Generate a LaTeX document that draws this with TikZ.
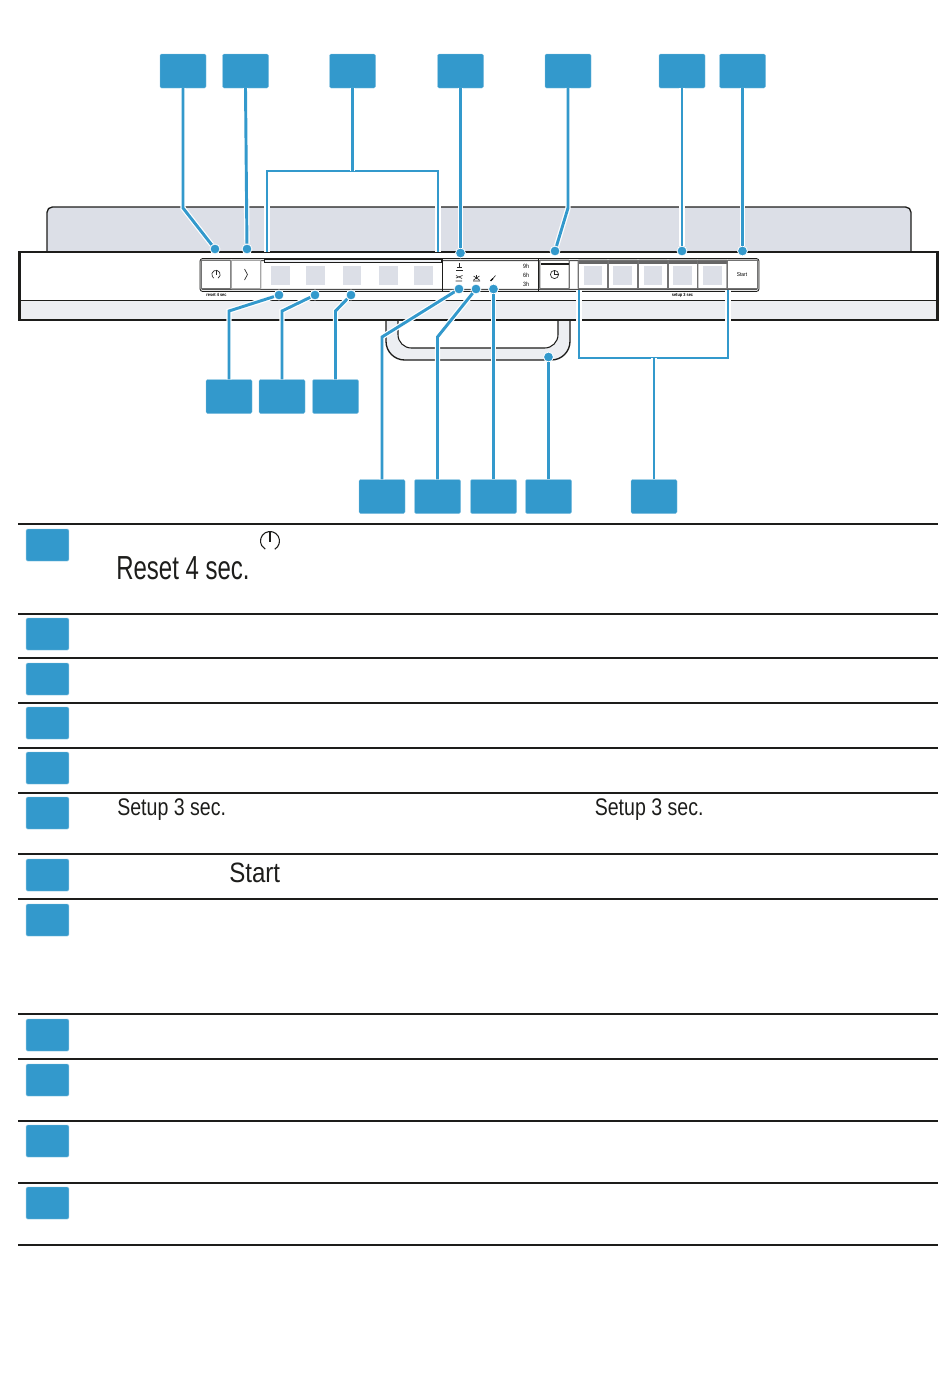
\documentclass[tikz,border=0pt]{standalone}
\usepackage{fontspec}
\setmainfont[FakeStretch=0.86]{Liberation Sans}
\newfontfamily\narrowfont[FakeStretch=0.815]{Liberation Sans}
\newfontfamily\narrowerfont[FakeStretch=0.72]{Liberation Sans}
\usepackage{xcolor}
\usetikzlibrary{
    calc,
    positioning
}
\definecolor{tagblue}{HTML}{3399CC}
\definecolor{coverfill}{HTML}{DCDFE7}
\definecolor{stripfill}{HTML}{ECEEF2}
\definecolor{inkdark}{HTML}{1D1D1B}
\tikzset{
    tag/.style={fill=tagblue, draw=tagblue!60!white, line width=0.3pt, rounded corners=1pt, minimum width=34.5pt, minimum height=25.5pt, inner sep=0pt},
    keytag/.style={tag, minimum width=32pt, minimum height=24pt},
    leader/.style={draw=tagblue, line width=2.2pt, line join=miter, preaction={draw=white, line width=4pt}},
    dot/.style={circle, fill=tagblue, draw=white, line width=0.6pt, minimum size=7.4pt, inner sep=0pt},
    keycap/.style={draw=black!55, fill=white, line width=0.9pt, rounded corners=0.6pt, minimum width=22pt, minimum height=21.5pt, inner sep=0pt},
    pad/.style={fill=coverfill, minimum width=14pt, minimum height=14pt, inner sep=0pt},
    tiny/.style={inner sep=0pt, font=\fontsize{3.8}{4}\selectfont},
    body/.style={inner sep=0pt, anchor=west, text=inkdark, font=\narrowfont\fontsize{18}{20}\selectfont},
    icon/.style={draw=black!85, line width=0.45pt}
}
\begin{document}
\begin{tikzpicture}[x=0.75pt, y=-0.75pt]
    \useasboundingbox (0,0) rectangle (950,1392);

    % appliance
    \draw[fill=coverfill, draw=inkdark, line width=1pt, rounded corners=4pt] (47,252) -- (47,207) -- (911,207) -- (911,252);
    \draw[fill=stripfill, draw=inkdark, line width=1pt, rounded corners=14pt] (386,320) -- (386,360) -- (570,360) -- (570,320);
    \draw[fill=white, draw=inkdark, line width=0.8pt, rounded corners=10pt] (398,318) -- (398,348) -- (558,348) -- (558,318);
    \draw[fill=white, draw=none] (19,252) rectangle (938,300);
    \draw[fill=stripfill, draw=none] (19,300) rectangle (938,320);
    \draw[inkdark, line width=0.8pt] (19,300.5) -- (938,300.5);
    \draw[inkdark, line width=2.1pt] (19.5,252) rectangle (937.5,320);

    % control strip
    \draw[inkdark, line width=0.6pt, rounded corners=2pt] (200,258.5) rectangle (759,291.5);
    \draw[black!70, line width=0.9pt, fill=white, rounded corners=1pt] (201.5,260.5) rectangle (757.5,289.5);
    \draw[inkdark, line width=0.5pt, fill=stripfill] (264,259.5) rectangle (441,262.5);
    \draw[inkdark, line width=0.6pt] (442.5,259) -- (442.5,291) (538,259) -- (538,291);

    \node[keycap, minimum width=22pt] (power) at (216,274.5) {};
    \node[keycap, draw=black!35, minimum width=22pt] (next) at (246,274.5) {};
    \draw[icon, line width=0.5pt] (216,274.5) ++(60:4.2) arc (60:-240:4.2);
    \draw[icon, line width=0.5pt] (216,269.5) -- (216,274.5);
    \draw[icon, line width=0.5pt] (244.5,269) -- (247.5,274.5) -- (244.5,280);
    \foreach \i/\x in {1/280.5, 2/315.5, 3/352, 4/388.5, 5/423.5}
        \node[pad] (pad\i) at (\x,275.5) {};

    % programme icons
    \draw[icon] (456,270) -- (463,270) (457,267.5) -- (462,267.5) (459.5,262.5) -- (459.5,267);
    \draw[icon] (455.5,281) -- (462,281) (456,278) -- (462.5,275.5) (456,275.5) -- (462,278.5);
    \draw[icon] (473,281) -- (480,281) (476.5,275) -- (476.5,279) (473.5,276) -- (479.5,280) (479.5,276) -- (473.5,280);
    \draw[black, line width=1pt] (490.5,281) -- (493,278.5);
    \draw[icon] (493,278.5) -- (495.5,275.5);
    \node[tiny, font=\fontsize{4.6}{5}\selectfont] (nine) at (526,266) {9h};
    \node[tiny, font=\fontsize{4.6}{5}\selectfont] (six) at (526,275) {6h};
    \node[tiny, font=\fontsize{4.6}{5}\selectfont] (three) at (526,284) {3h};

    % delay and option keys
    \node[keycap] (delay) at (554.5,274.5) {};
    \draw[inkdark, line width=1.2pt] (541,264) -- (569,264);
    \draw[icon, line width=0.5pt] (554.5,274.5) circle (4.1);
    \draw[icon, line width=0.5pt] (554.5,270) -- (554.5,274.5) -- (559,274.5);
    \foreach \i/\x/\p in {1/593/593, 2/623/622.5, 3/653/653, 4/683/682.5, 5/712.5/712.5} {
        \node[keycap] (key\i) at (\x,274.5) {};
        \draw[black!60, line width=1.6pt] (\x-14.5,262.5) -- (\x+14.5,262.5);
        \node[pad] (opt\i) at (\p,275.5) {};
    }
    \node[keycap, minimum width=23pt] (startkey) at (742.5,274.5) {};
    \node[tiny, font=\fontsize{4.2}{5}\selectfont] (startlabel) at (742,274.5) {Start};
    \node[tiny, font=\bfseries\fontsize{3.4}{4}\selectfont] (resetlabel) at (216.5,295) {reset 4 sec};
    \node[tiny, font=\bfseries\fontsize{3.4}{4}\selectfont] (setuplabel) at (682.5,295) {setup 3 sec};

    % tags
    \node[tag] (t1) at (183,71) {};
    \node[tag] (t2) at (245.5,71) {};
    \node[tag] (t3) at (352.5,71) {};
    \node[tag] (t4) at (460.5,71) {};
    \node[tag] (t5) at (568,71) {};
    \node[tag] (t6) at (682,71) {};
    \node[tag] (t7) at (742.5,71) {};
    \node[tag] (t8) at (229,396.5) {};
    \node[tag] (t9) at (282,396.5) {};
    \node[tag] (t10) at (335.5,396.5) {};
    \node[tag] (t11) at (382,496.5) {};
    \node[tag] (t12) at (437.5,496.5) {};
    \node[tag] (t13) at (493.5,496.5) {};
    \node[tag] (t14) at (548.5,496.5) {};
    \node[tag] (t15) at (654,496.5) {};

    % end points
    \coordinate (bl) at (267,252);
    \coordinate (br) at (438,252);
    \coordinate (kl) at (579,290);
    \coordinate (kr) at (728,290);
    \node[dot] (d1) at (215,249) {};
    \node[dot] (d2) at (247,249) {};
    \node[dot] (d4) at (460.5,253) {};
    \node[dot] (d5) at (555,251) {};
    \node[dot] (d6) at (682,251) {};
    \node[dot] (d7) at (742.5,251) {};
    \node[dot] (d8) at (279,295) {};
    \node[dot] (d9) at (315,295) {};
    \node[dot] (d10) at (351,295) {};
    \node[dot] (d11) at (459,289) {};
    \node[dot] (d12) at (476,289) {};
    \node[dot] (d13) at (493.5,289) {};
    \node[dot] (d14) at (548.5,357) {};

    % leaders
    \draw[leader] (t1.south) -- (183,208) -- (d1);
    \draw[leader] (t2.south) -- (d2);
    \draw[leader] (bl) -- (267,171) -- (438,171) -- (br);
    \draw[leader] (t3.south) -- (352.5,171);
    \draw[leader] (t4.south) -- (d4);
    \draw[leader] (t5.south) -- (568,208) -- (d5);
    \draw[leader] (t6.south) -- (d6);
    \draw[leader] (t7.south) -- (d7);
    \draw[leader] (t8.north) -- (229,311) -- (d8);
    \draw[leader] (t9.north) -- (282,311) -- (d9);
    \draw[leader] (t10.north) -- (335.5,311) -- (d10);
    \draw[leader] (t11.north) -- (382,337) -- (d11);
    \draw[leader] (t12.north) -- (437.5,337) -- (d12);
    \draw[leader] (t13.north) -- (d13);
    \draw[leader] (t14.north) -- (d14);
    \draw[leader] (kl) -- (579,358) -- (728,358) -- (kr);
    \draw[leader] (t15.north) -- (654,358);

    % table
    \foreach \y in {524, 614, 658, 703, 748, 793, 854, 899, 1014, 1059, 1121, 1183, 1245}
        \draw[inkdark, line width=1pt] (18,\y) -- (938,\y);
    \foreach \i/\y in {1/545, 2/634, 3/679, 4/723, 5/768, 6/813, 7/875, 8/920, 9/1035, 10/1080, 11/1141, 12/1203}
        \node[keytag] (k\i) at (47.5,\y) {};

    \node[body, font=\narrowerfont\fontsize{25}{27}\selectfont] (reset) at (116,568) {Reset 4 sec.};
    \node[body] (setupa) at (117,810) {Setup 3 sec.};
    \node[body] (setupb) at (594.5,810) {Setup 3 sec.};
    \node[body, font=\fontsize{21}{23}\selectfont] (start) at (229,873) {Start};
    \draw[inkdark, line width=0.8pt] (270,541) ++(60:9.5) arc (60:-240:9.5);
    \draw[inkdark, line width=0.8pt] (270,531) -- (270,542);
\end{tikzpicture}
\end{document}
